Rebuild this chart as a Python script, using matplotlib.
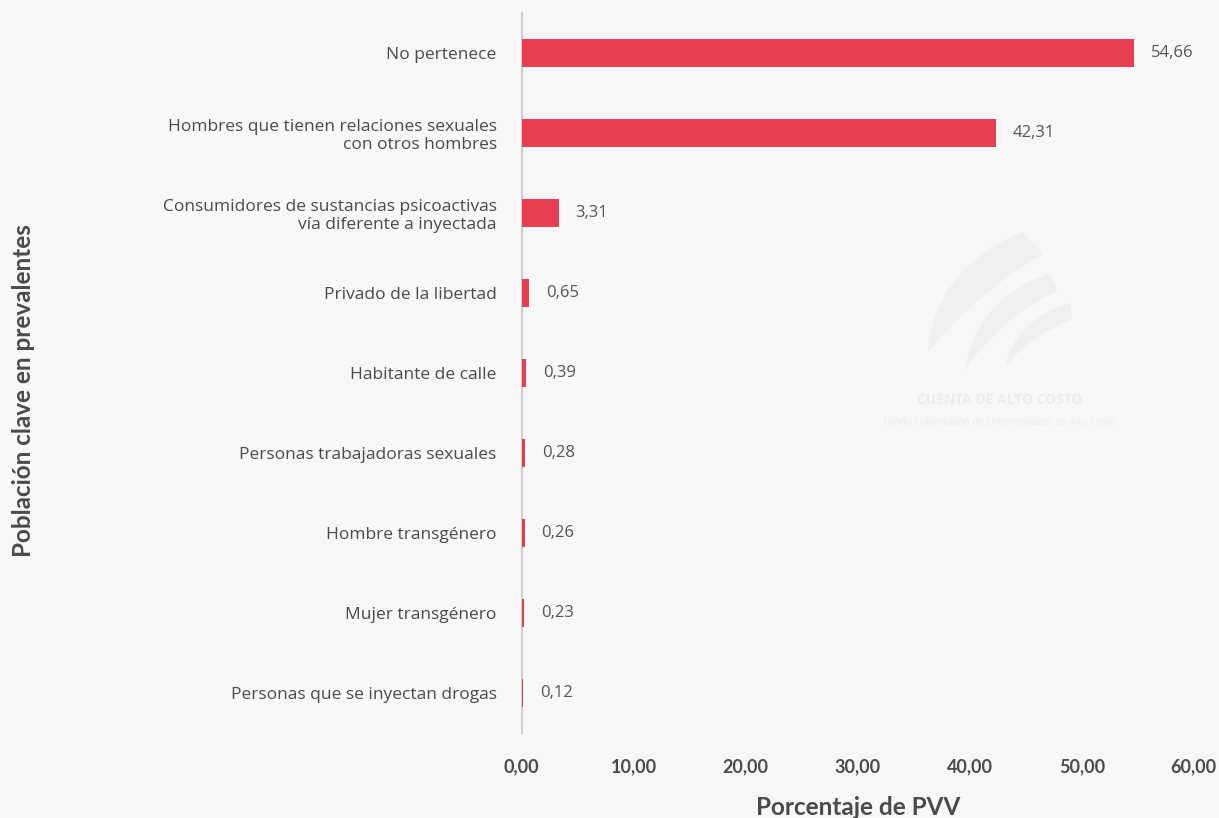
import matplotlib
matplotlib.use('Agg')
import matplotlib.pyplot as plt
from matplotlib.path import Path
from matplotlib.patches import PathPatch

BG = '#f7f7f7'
RED = '#e63e50'
TXT = '#4a4a4a'
REG = ['Open Sans', 'DejaVu Sans']
BOLD = ['Lato', 'DejaVu Sans']

categorias = [
    'No pertenece',
    'Hombres que tienen relaciones sexuales\ncon otros hombres',
    'Consumidores de sustancias psicoactivas\nvía diferente a inyectada',
    'Privado de la libertad',
    'Habitante de calle',
    'Personas trabajadoras sexuales',
    'Hombre transgénero',
    'Mujer transgénero',
    'Personas que se inyectan drogas',
]
porcentajes = [54.66, 42.31, 3.31, 0.65, 0.39, 0.28, 0.26, 0.23, 0.12]
ticks_x = [0, 10, 20, 30, 40, 50, 60]

plt.rcParams['font.family'] = REG

W, H = 1219, 818
fig = plt.figure(figsize=(W / 100, H / 100), dpi=100)
fig.patch.set_facecolor(BG)
ax = fig.add_axes([0.428, 0.104, 0.5513, 0.880])
ax.set_facecolor(BG)

# logo de fondo (tres trazos curvos), en pixeles de la figura
def trazo(bottom, c1, top, right, c2):
    pts = [bottom, c1, top, right, c2, bottom]
    pts = [(px / W, 1 - py / H) for px, py in pts]
    codes = [Path.MOVETO, Path.CURVE3, Path.CURVE3, Path.LINETO, Path.CURVE3, Path.CURVE3]
    fig.patches.append(PathPatch(Path(pts, codes), transform=fig.transFigure,
                                 facecolor='#efefef', edgecolor='none', zorder=0))

trazo((928, 352), (935, 268), (1023, 232), (1043, 254), (982, 288))
trazo((965, 370), (975, 300), (1050, 273), (1057, 291), (1000, 318))
trazo((1005, 367), (1015, 320), (1070, 303), (1072, 320), (1030, 335))

fig.text(0.82, 0.511, 'CUENTA DE ALTO COSTO', fontsize=10, fontweight='bold',
         color='#ececec', ha='center', va='center')
fig.text(0.82, 0.484, 'Fondo Colombiano de Enfermedades de Alto Costo', fontsize=7,
         color='#ececec', ha='center', va='center')
ax.patch.set_alpha(0)

y = list(range(len(categorias)))
ax.barh(y, porcentajes, height=0.35, color=RED, zorder=3)
ax.set_ylim(len(categorias) - 0.5, -0.5)
ax.set_xlim(0, 60)

for yi, v in zip(y, porcentajes):
    ax.text(v + 1.5, yi, f'{v:.2f}'.replace('.', ','), va='center', ha='left',
            fontsize=12, color='#555555')

ax.set_yticks(y)
ax.set_yticklabels(categorias, fontsize=12.5, color=TXT, ha='right')
ax.tick_params(axis='y', length=0, pad=18)

ax.set_xticks(ticks_x)
ax.set_xticklabels([f'{t:.2f}'.replace('.', ',') for t in ticks_x],
                   fontsize=13, fontweight='bold', color=TXT, family=BOLD)
ax.tick_params(axis='x', length=0, pad=18)

for s in ['top', 'right', 'bottom']:
    ax.spines[s].set_visible(False)
ax.spines['left'].set_color('#d0d0d0')
ax.spines['left'].set_linewidth(1.5)

ax.set_xlabel('Porcentaje de PVV', fontsize=17.5, fontweight='bold', color=TXT,
              labelpad=15, family=BOLD)
fig.text(0.019, 0.523, 'Población clave en prevalentes', rotation=90, fontsize=17.5,
         fontweight='bold', color=TXT, ha='center', va='center', family=BOLD)

fig.savefig('out.png', dpi=100, facecolor=BG)
